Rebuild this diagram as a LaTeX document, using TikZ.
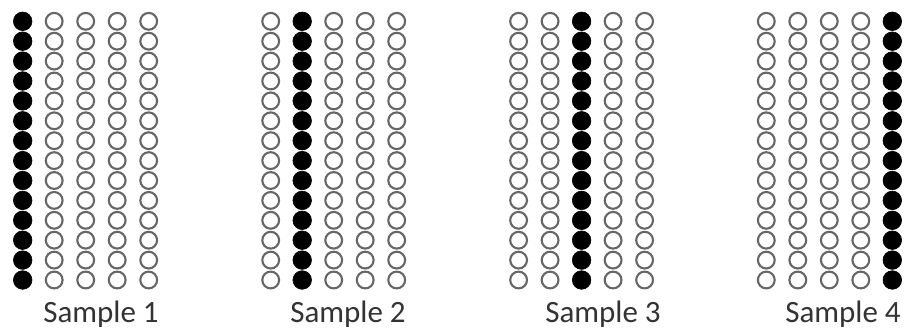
\documentclass[tikz,border=0pt]{standalone}
\usepackage{fontspec}
\setmainfont{Carlito}
\begin{document}
\begin{tikzpicture}[x=1pt,y=-1pt,
  hollow/.style={circle,draw=black!60,line width=2.1pt,fill=white,minimum size=16.8pt,inner sep=0pt},
  solid/.style={circle,fill=black,draw=black,line width=0.6pt,minimum size=18.6pt,inner sep=0pt},
  lab/.style={font=\fontsize{31}{33}\selectfont,text=black!80,anchor=base,inner sep=0pt}]
\useasboundingbox (0,0) rectangle (914,329);
\fill[white] (0,0) rectangle (914,329);
\foreach \g/\gx/\f in {1/22.7/1,2/270.7/2,3/518.6/3,4/766.3/5}{
  \foreach \c in {1,...,5}{
    \foreach \r in {1,...,14}{
      \pgfmathsetmacro{\xx}{\gx+(\c-1)*31.5}
      \pgfmathsetmacro{\yy}{21.3+(\r-1)*19.9}
      \ifnum\c=\f
        \node[solid] (g\g c\c r\r) at (\xx,\yy) {};
      \else
        \node[hollow] (g\g c\c r\r) at (\xx,\yy) {};
      \fi
    }
  }
}
\node[lab] (l1) at (101,322) {Sample 1};
\node[lab] (l2) at (348,322) {Sample 2};
\node[lab] (l3) at (603,322) {Sample 3};
\node[lab] (l4) at (843,322) {Sample 4};
\end{tikzpicture}
\end{document}
